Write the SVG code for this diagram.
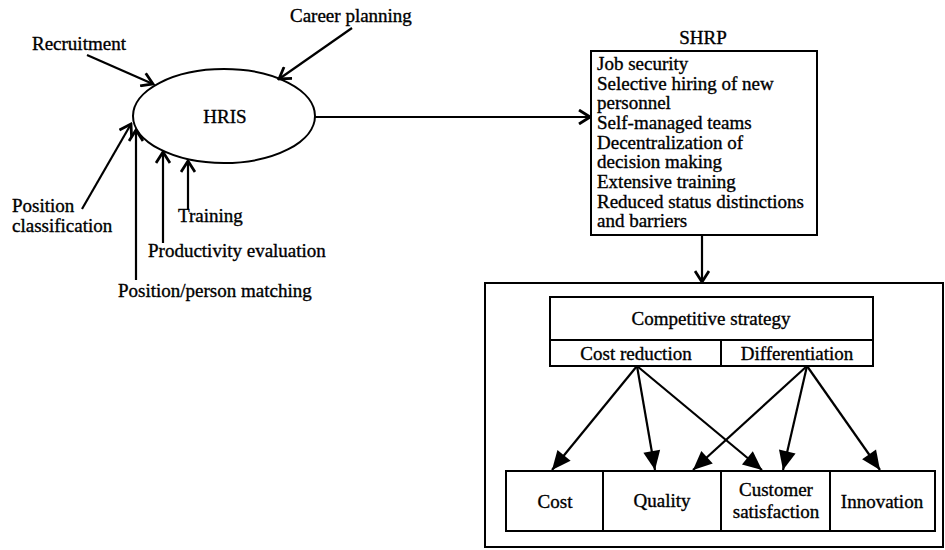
<svg xmlns="http://www.w3.org/2000/svg" width="945" height="550" viewBox="0 0 945 550">
<style>
text{font-family:"Liberation Serif","Times New Roman",serif;font-size:19px;fill:#000;stroke:#000;stroke-width:0.35}
.c{text-anchor:middle}
.s{fill:none;stroke:#000;stroke-width:2}
.box{fill:#fff;stroke:#000;stroke-width:2}
.ln{fill:none;stroke:#000;stroke-width:2.2}
</style>
<defs>
<marker id="open" markerUnits="userSpaceOnUse" markerWidth="16" markerHeight="16" viewBox="-14 -8 16 16" refX="0" refY="0" orient="auto">
<path d="M-11,-7 L0,0 L-11,7" fill="none" stroke="#000" stroke-width="2.8"/>
</marker>
<marker id="tri" markerUnits="userSpaceOnUse" markerWidth="22" markerHeight="22" viewBox="-20 -10 22 20" refX="0" refY="0" orient="auto">
<path d="M-19,-8.5 L0,0 L-19,8.5 Z" fill="#000"/>
</marker>
</defs>

<g id="outer-box"><rect class="box" x="485" y="283" width="458" height="264"/></g>

<g id="hris">
<ellipse class="s" cx="224" cy="116" rx="91" ry="47"/>
<text class="c" x="225" y="123">HRIS</text>
</g>

<g id="recruitment"><text x="32" y="50">Recruitment</text></g>
<g id="career-planning"><text x="290" y="22">Career planning</text></g>
<g id="position-classification"><text x="12" y="212">Position</text><text x="12" y="232">classification</text></g>
<g id="position-person-matching"><text x="118" y="297">Position/person matching</text></g>
<g id="productivity-evaluation"><text x="148" y="257">Productivity evaluation</text></g>
<g id="training"><text x="178" y="222">Training</text></g>

<g id="shrp">
<text class="c" x="703" y="44">SHRP</text>
<rect class="box" x="591" y="51" width="226" height="184"/>
<text x="597" y="70">Job security</text>
<text x="597" y="90">Selective hiring of new</text>
<text x="597" y="109">personnel</text>
<text x="597" y="129">Self-managed teams</text>
<text x="597" y="149">Decentralization of</text>
<text x="597" y="168">decision making</text>
<text x="597" y="188">Extensive training</text>
<text x="597" y="208">Reduced status distinctions</text>
<text x="597" y="227">and barriers</text>
</g>

<g id="competitive-strategy">
<rect class="box" x="550" y="297" width="323" height="69"/>
<line class="s" x1="550" y1="340" x2="873" y2="340"/>
<line class="s" x1="721" y1="340" x2="721" y2="366"/>
<text class="c" x="711" y="325">Competitive strategy</text>
</g>
<g id="cost-reduction"><text class="c" x="636" y="360">Cost reduction</text></g>
<g id="differentiation"><text class="c" x="797" y="360">Differentiation</text></g>

<g id="cost"><rect class="box" x="506" y="471" width="97" height="60"/><text class="c" x="555" y="508">Cost</text></g>
<g id="quality"><rect class="box" x="603" y="471" width="118" height="60"/><text class="c" x="662" y="507">Quality</text></g>
<g id="customer-satisfaction"><rect class="box" x="721" y="471" width="109" height="60"/><text class="c" x="776" y="496">Customer</text><text class="c" x="776" y="518">satisfaction</text></g>
<g id="innovation"><rect class="box" x="830" y="471" width="105" height="60"/><text class="c" x="882" y="508">Innovation</text></g>

<g id="connectors">
<line class="ln" x1="87" y1="55" x2="153" y2="84" marker-end="url(#open)"/>
<line class="ln" x1="352" y1="28" x2="279" y2="79" marker-end="url(#open)"/>
<line class="ln" x1="82" y1="209" x2="131" y2="124" marker-end="url(#open)"/>
<line class="ln" x1="136" y1="280" x2="136" y2="130" marker-end="url(#open)"/>
<line class="ln" x1="163" y1="243" x2="163" y2="152" marker-end="url(#open)"/>
<line class="ln" x1="188" y1="210" x2="188" y2="161" marker-end="url(#open)"/>
<line class="ln" x1="315" y1="117" x2="590" y2="117" marker-end="url(#open)"/>
<line class="ln" x1="702" y1="235" x2="702" y2="282" marker-end="url(#open)"/>
<line class="ln" x1="637" y1="366" x2="552" y2="470" marker-end="url(#tri)"/>
<line class="ln" x1="637" y1="366" x2="655" y2="470" marker-end="url(#tri)"/>
<line class="ln" x1="637" y1="366" x2="762" y2="470" marker-end="url(#tri)"/>
<line class="ln" x1="807" y1="366" x2="693" y2="470" marker-end="url(#tri)"/>
<line class="ln" x1="807" y1="366" x2="783" y2="470" marker-end="url(#tri)"/>
<line class="ln" x1="807" y1="366" x2="880" y2="470" marker-end="url(#tri)"/>
</g>
</svg>
